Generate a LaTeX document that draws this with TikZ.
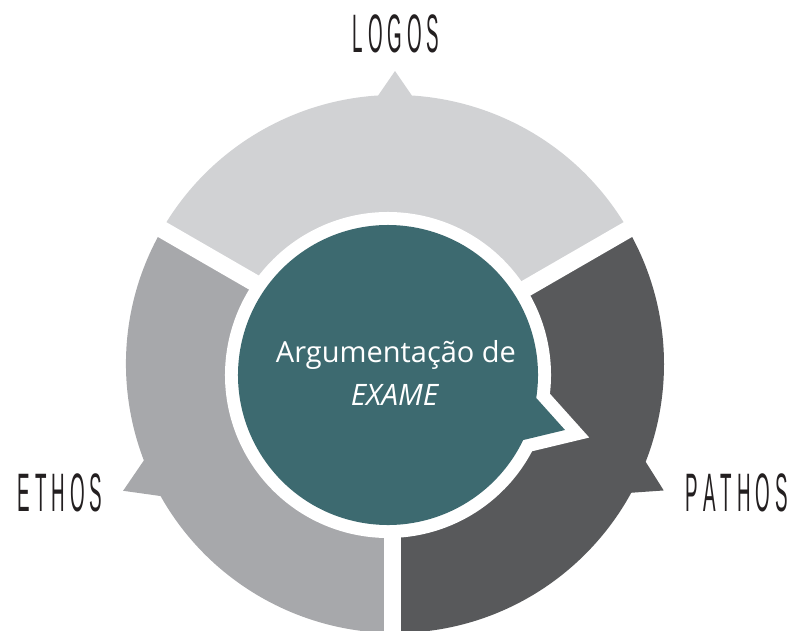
\documentclass[tikz,border=0pt]{standalone}
\usepackage{fontspec}
\usetikzlibrary{calc}
\newfontfamily\osans{Open Sans}
\newfontfamily\lsans{Liberation Sans}
\definecolor{logoscol}{HTML}{D1D2D4}
\definecolor{ethoscol}{HTML}{A7A8AB}
\definecolor{pathoscol}{HTML}{58595B}
\definecolor{tealcol}{HTML}{3D6A70}
\definecolor{labcol}{HTML}{231F20}
\newcommand\lk{\kern5pt}
\newcommand\lbltext[1]{\scalebox{1}[2.88]{\lsans\fontsize{18.8}{20}\selectfont #1}}
\def\bubblepath{($(T)+(-8.8:150)$) arc[start angle=-8.8, end angle=334.3, radius=150] -- ($(T)+(177,-55)$) -- cycle}
\begin{document}
\begin{tikzpicture}[x=1pt,y=1pt,
  gapline/.style={draw=white, line width=17pt},
  maintext/.style={text=white, font=\osans\fontsize{29}{34}\selectfont, inner sep=0pt, anchor=base},
  lbl/.style={text=labcol, inner sep=0pt, anchor=base}]
\useasboundingbox (0,0) rectangle (796,-630);
\coordinate (C) at (395,-364);
\coordinate (T) at (388,-375);
% ring sectors
\fill[logoscol] (C) -- ($(C)+(30:269)$) arc[start angle=30, end angle=150, radius=269] -- cycle;
\fill[logoscol] ($(C)+(86.4:269)$) -- ($(C)+(90:293)$) -- ($(C)+(93.6:269)$) -- ($(C)+(90:250)$) -- cycle;
\fill[ethoscol] (C) -- ($(C)+(150:269)$) arc[start angle=150, end angle=270, radius=269] -- cycle;
\fill[ethoscol] ($(C)+(201:269)$) -- ($(C)+(205:300)$) -- ($(C)+(209.4:269)$) -- ($(C)+(205:250)$) -- cycle;
\fill[pathoscol] (C) -- ($(C)+(270:269)$) arc[start angle=270, end angle=390, radius=269] -- cycle;
\fill[pathoscol] ($(C)+(331.4:269)$) -- ($(C)+(334.8:297)$) -- ($(C)+(338.7:269)$) -- ($(C)+(335:250)$) -- cycle;
% gaps
\coordinate (g1) at ($(C)+(30:320)$);
\coordinate (g2) at ($(C)+(150:320)$);
\coordinate (g3a) at (392,-364);
\coordinate (g3b) at (392,-650);
\draw[gapline] (C) -- (g1);
\draw[gapline] (C) -- (g2);
\draw[gapline] (g3a) -- (g3b);
% bubble
\path[draw=white, line width=26pt, line join=miter, miter limit=10] \bubblepath;
\path[fill=tealcol] \bubblepath;
% texts
\node[maintext] (arg) at (396,-362) {Argumentação de};
\node[maintext, font=\osans\itshape\fontsize{29.5}{34}\selectfont] (exame) at (394.5,-405) {EXAME};
\node[lbl] (logos) at (396,-52) {\lbltext{L\lk O\lk G\lk O\lk S}};
\node[lbl] (ethos) at (60,-511) {\lbltext{E\lk T\lk H\lk O\lk S}};
\node[lbl] (pathos) at (737,-511) {\lbltext{P\lk A\lk T\lk H\lk O\lk S}};
\end{tikzpicture}
\end{document}
